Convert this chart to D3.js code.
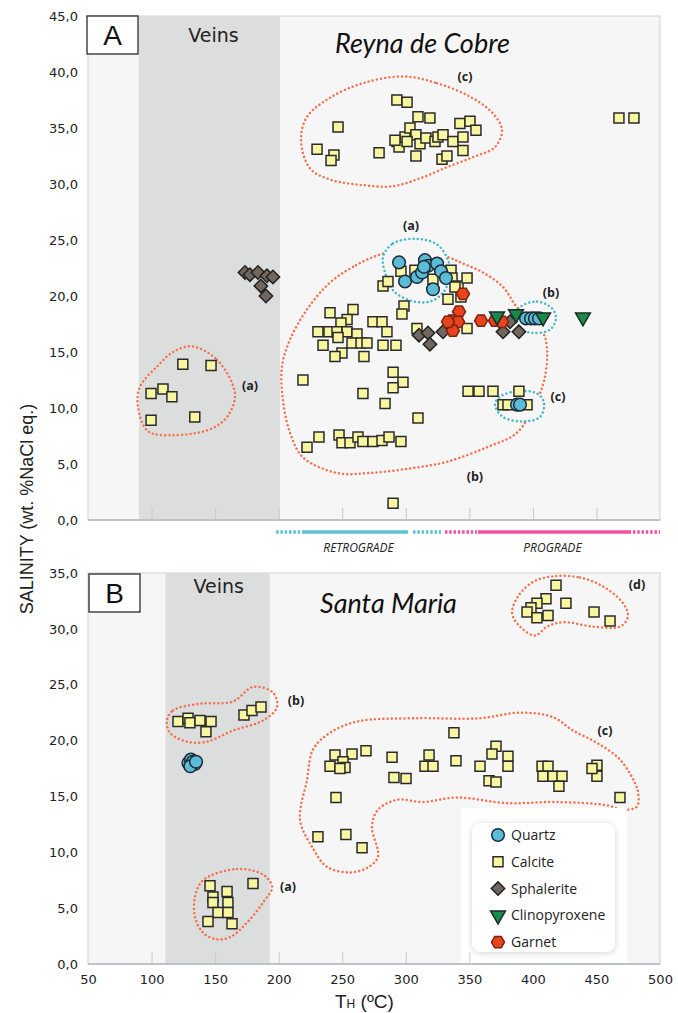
<!DOCTYPE html>
<html>
<meta charset="utf-8">
<title>Salinity vs TH</title>
<style>
  body { margin: 0; background: #fff; }
  .tick text { font-family: "DejaVu Sans", Verdana, sans-serif; font-size: 13px; fill: #222; }
  .lbl { font-family: "Open Sans", sans-serif; font-weight: 700; font-size: 12.5px; fill: #222; }
  .site { font-family: Lato, "Open Sans", sans-serif; font-style: italic; font-size: 27px; fill: #111; }
  .veins { font-family: "DejaVu Sans", sans-serif; font-size: 19px; fill: #222; }
  .stage { font-family: "Open Sans", sans-serif; font-style: italic; font-size: 12px; fill: #222; }
  .leg { font-family: "Open Sans", sans-serif; font-size: 14px; fill: #222; }
</style>
<body>
<script src="https://d3js.org/d3.v7.min.js"></script>
<script>
// ---- panel A : Reyna de Cobre ----
var aQuartz = [[294.7,23.0],[299.4,21.3],[308.8,21.7],[312.8,22.1],[315.1,23.2],[317.5,22.7],[324.6,22.9],[327.7,22.2],[331.6,21.6],[321.4,20.6],[314.3,22.6],
  [394.6,18.0],[398.5,18.0],[401.6,18.0],[404.8,18.0],[387.5,10.3],[389.9,10.3]];
var aCalcite = [[99.6,11.3],[109,11.7],[116,11.0],[124.6,13.9],[146.8,13.8],[99.6,8.9],[134,9.2],
  [293,37.5],[301,37.3],[309.6,36.0],[319,35.9],[246.7,35.1],[342.6,35.4],[350.5,35.6],[355.2,34.8],[230.2,33.1],[243.5,32.6],[241.2,32.1],[279,32.8],
  [293.1,33.8],[294.7,33.3],[299.4,34.2],[303.3,35.0],[308,34.4],[311.2,33.6],[315.9,34.1],[308,32.5],[323,33.8],[325.3,34.2],[329.3,34.4],[337.1,33.8],
  [345,34.2],[345,33.0],[328.5,32.2],[332.4,32.5],[301,33.8],[291.5,33.9],[467.7,35.9],[479.5,35.9],
  [282.1,20.9],[286,21.3],[296.2,22.2],[307.2,22.3],[321.4,21.5],[335.6,22.3],[336.4,21.6],[341.1,20.9],[348.2,21.6],[343.4,19.9],[333.2,19.7],[338.7,20.8],[298.6,19.1],[297,18.4],
  [240.4,18.5],[258.5,18.8],[253.8,17.9],[249,17.6],[230.9,16.8],[239.6,16.8],[245.9,16.8],[253.8,16.8],[261.6,16.6],[234.9,15.6],[246.7,16.3],[257.7,15.8],
  [264.8,15.8],[269.5,15.8],[249.8,14.9],[244.3,14.6],[267.1,14.6],[274.2,17.7],[281.3,17.7],[285.2,16.8],[282.1,15.6],[292.3,15.6],
  [219.1,12.5],[290,13.2],[297.8,12.3],[290,11.8],[266.3,11.3],[283.7,10.4],[309.6,9.1],[222.3,6.5],[231.7,7.4],[247.5,7.6],[249.8,6.9],[256.1,6.9],
  [262.4,7.4],[266.3,7.0],[274.2,7.0],[281.3,7.1],[286.8,7.4],[296.2,7.0],[290,1.5],
  [349,11.5],[357.6,11.5],[368.6,11.5],[389,11.5],[376.5,10.3],[380.4,10.3],[395.4,10.3],[348.2,17.1],[308.8,17.1]];
var aSphalerite = [[173.5,22.1],[177.4,21.9],[183.7,22.1],[190.8,21.8],[195.5,21.7],[186,20.9],[190,20.0],
  [310.4,16.5],[317.5,16.7],[319,15.7],[329.3,16.8],[376.5,16.8],[382,17.7],[389,16.8]];
var aCpx = [[371.8,18.2],[386.7,18.4],[408,18.1],[439.4,18.1]];
var aGarnet = [[345,20.2],[341.9,18.6],[336.4,17.8],[341.1,17.7],[337.1,16.9],[333.2,17.7],[359.2,17.8],[370.2,17.8],[375.7,17.7]];

var aRingsRed = [
  [[131.8,15.5],[151.5,14.3],[165.6,11.3],[159.4,9.2],[143.6,8.0],[106.6,7.6],[96.4,8.0],[89.3,10.1],[90.9,11.9],[104.3,13.7],[116.9,15.0]],
  [[297.8,39.6],[324.6,39.0],[350.5,37.8],[368.6,36.3],[375.7,34.8],[370.2,33.3],[352.9,32.4],[332.4,31.5],[311.2,30.5],[289.9,29.8],[266.3,29.9],
   [240.4,30.4],[224.6,31.4],[217.6,33.9],[222.3,36.0],[240.4,37.7],[266.3,39.0]],
  [[279.7,23.7],[258.5,22.6],[240.4,21.2],[222.3,18.8],[208.9,16.1],[202.6,13.7],[203.4,10.7],[208.9,7.8],[219.1,5.6],[245.9,4.2],[271.8,4.2],
   [303.3,4.6],[332.4,5.2],[363.9,6.5],[387.5,7.8],[403.2,10.7],[409.5,12.8],[411.1,15.2],[408,16.7],[387.5,19.0],[376.5,20.8],[360.7,22.1],[345,22.9],[334.8,23.4],[307,24.3]]
];
var aRingsBlue = [
  [[282.1,23.5],[290,24.7],[308.8,25.1],[324.6,24.6],[333.2,23.2],[334.8,21.7],[329.3,20.3],[319,19.5],[303.3,19.6],[290,20.5],[283.7,22.1]],
  [[389.9,19.0],[403.2,19.5],[415,18.9],[418.2,18.0],[413.5,17.0],[400.1,16.7],[389.9,17.1],[387.5,18.1]],
  [[374.1,11.0],[387.5,11.5],[403.2,11.3],[408.7,10.5],[405.6,9.2],[392.2,8.8],[376.5,9.2],[370.2,10.3]]
];
var aLabels = [["(c)",346.6,39.6],["(a)",304.1,26.3],["(b)",414.2,20.3],["(c)",419.7,11.0],["(b)",354.4,3.9],["(a)",177.4,12.0]];

// ---- panel B : Santa Maria ----
var bQuartz = [[129,18.0],[131,18.3],[134,17.9],[132.5,18.1],[130.5,17.7],[135,18.1]];
var bCalcite = [[120.8,21.7],[128.7,22.0],[130.2,21.6],[138.1,21.8],[146.8,21.7],[142.8,20.8],[172.7,22.3],[179,22.7],[186.1,23.0],
  [146,7.0],[148.3,6.0],[148.3,5.5],[159.4,6.5],[160.1,5.5],[152.3,4.6],[160.1,4.6],[144.4,3.8],[163.3,3.6],[179.8,7.2],
  [418.2,33.9],[410.3,32.7],[403.2,32.3],[398.5,31.9],[395.4,31.5],[403.2,31.0],[411.9,31.2],[426,32.3],[448.1,31.5],[460.7,30.7],
  [337.9,20.7],[244.3,18.7],[257.7,18.8],[268.7,19.1],[240.4,17.7],[250.6,18.1],[252.2,17.6],[248.2,17.5],[289.2,18.5],[290.7,16.7],[300.2,16.6],
  [318.3,18.7],[315.1,17.7],[321.4,17.7],[339.5,18.2],[358.4,17.7],[371,19.5],[367.8,18.8],[380.4,18.6],[380.4,17.7],[365.5,16.4],[371,16.3],
  [407.2,17.7],[411.9,17.7],[407.9,16.8],[415.8,16.8],[422.9,16.8],[420.5,15.9],[450.4,17.8],[450.4,16.8],[446.5,17.5],[245.1,14.9],[468.5,14.9],
  [230.9,11.4],[252.9,11.6],[265.6,10.4]];
var bRingsRed = [
  [[112.1,21.8],[116.9,22.7],[138.1,23.3],[164.1,23.5],[179.8,24.8],[195.5,24.3],[198.7,23.0],[187.7,21.8],[164.1,20.9],[143.6,19.9],[127.9,19.9],[114.5,20.7]],
  [[140.5,7.5],[167.2,8.5],[187.7,8.0],[194.8,6.9],[187.7,5.5],[175.1,3.7],[161.7,2.4],[151.5,2.2],[140.5,2.8],[134.2,4.2],[134.2,6.0]],
  [[415.8,34.7],[437,34.6],[455.1,33.8],[470.9,32.3],[474.8,31.1],[468.5,30.2],[447.3,30.2],[423.7,30.6],[411.1,30.2],[401.7,29.4],[389.9,30.2],[383.6,31.4],[388.3,32.9],[400.1,34.2]],
  [[261.6,21.7],[305.7,22.0],[358.4,22.0],[389.9,22.5],[415.8,22.1],[431.5,20.9],[450.4,19.8],[468.5,18.3],[480.3,16.2],[482.7,15.4],[481.9,14.1],
   [470.9,13.8],[458.3,14.2],[418.9,14.5],[379.6,14.4],[340.3,14.9],[313.5,14.5],[293.1,14.7],[278.1,13.8],[273.4,12.3],[278.1,9.6],[269.5,8.6],
   [256.1,8.2],[238,8.7],[226.2,10.5],[216.8,12.9],[222.3,16.5],[227,19.2],[240.4,20.7]]
];
var bLabels = [["(d)",481.9,34.0],["(b)",213.6,23.6],["(c)",456.7,20.9],["(a)",207.3,6.9]];

var xTicks = [50,100,150,200,250,300,350,400,450,500];
var retroSegs = [[198,218.4,"dot"],[218.4,301.7,"solid"],[305.7,327.7,"dot"]];
var proSegs = [[330.8,356,"dot"],[356.8,477.2,"solid"],[478.7,500,"dot"]];
var legendNames = ["Quartz","Calcite","Sphalerite","Clinopyroxene","Garnet"];

var bg = "#f6f6f6", veinBg = "#dcdddd", red = "#f4704f", blue = "#45b6c8";

var hexagon = { draw: function(ctx, size) {
  var r = Math.sqrt(size * 2 / (3 * Math.sqrt(3)));
  for (var i = 0; i < 6; i++) {
    var a = i * Math.PI / 3;
    if (i === 0) ctx.moveTo(r * Math.cos(a), r * Math.sin(a)); else ctx.lineTo(r * Math.cos(a), r * Math.sin(a));
  }
  ctx.closePath();
}};

var styles = {
  Quartz: {type: d3.symbolCircle, size: 125, fill: "#5bbcd8", stroke: "#1d2a36", rot: 0},
  Calcite: {type: d3.symbolSquare, size: 100, fill: "#f8f6a0", stroke: "#2a2a2a", rot: 0},
  Sphalerite: {type: d3.symbolSquare, size: 90, fill: "#72675f", stroke: "#222", rot: 45},
  Clinopyroxene: {type: d3.symbolTriangle, size: 95, fill: "#188a4c", stroke: "#1c2a22", rot: 180},
  Garnet: {type: hexagon, size: 110, fill: "#e8431a", stroke: "#7a2410", rot: 0}
};

var x = d3.scaleLinear().domain([50, 500]).range([88, 660]);
var yA = d3.scaleLinear().domain([0, 45]).range([520, 16]);
var yB = d3.scaleLinear().domain([0, 35]).range([964, 573]);

var svg = d3.select("body").append("svg").attr("width", 678).attr("height", 1013);

var defs = svg.append("defs");
defs.append("filter").attr("id", "shadow").attr("x", "-20%").attr("y", "-20%").attr("width", "140%").attr("height", "140%")
  .append("feDropShadow").attr("dx", 0).attr("dy", 1).attr("stdDeviation", 3).attr("flood-color", "#000").attr("flood-opacity", 0.18);

function fmt(d) { return d.toFixed(1).replace(".", ","); }

function drawPanel(y, ymax, veins, letter, site, sitePos, rings, blueRings, series, labels, showX) {
  var g = svg.append("g");
  g.append("rect").attr("x", x(50)).attr("y", y(ymax)).attr("width", x(500) - x(50)).attr("height", y(0) - y(ymax))
    .attr("fill", bg).attr("stroke", "#d8d8d8").attr("stroke-width", 1.2);
  g.append("rect").attr("x", x(veins[0])).attr("y", y(ymax)).attr("width", x(veins[1]) - x(veins[0])).attr("height", y(0) - y(ymax))
    .attr("fill", veinBg);

  g.append("g").attr("transform", "translate(0," + y(0) + ")")
    .call(d3.axisTop(x).tickValues(xTicks.slice(1, -1)).tickSize(12).tickFormat(""))
    .call(function(a) { a.select(".domain").remove(); a.selectAll("line").attr("stroke", "#c9c9c9"); });
  g.append("line").attr("x1", x(50)).attr("x2", x(500)).attr("y1", y(0)).attr("y2", y(0))
    .attr("stroke", "#bcc1cc").attr("stroke-width", 2);

  g.append("g").attr("transform", "translate(" + x(50) + ",0)")
    .call(d3.axisLeft(y).tickValues(d3.range(0, ymax + 1, 5)).tickSize(0).tickPadding(10).tickFormat(fmt))
    .call(function(a) { a.select(".domain").remove(); });

  if (showX) {
    g.append("g").attr("transform", "translate(0," + y(0) + ")")
      .call(d3.axisBottom(x).tickValues(xTicks).tickSize(0).tickPadding(11))
      .call(function(a) { a.select(".domain").remove(); });
  }

  var line = d3.line().x(function(d) { return x(d[0]); }).y(function(d) { return y(d[1]); }).curve(d3.curveCatmullRomClosed.alpha(0.5));
  rings.forEach(function(r) {
    g.append("path").attr("d", line(r)).attr("fill", "none").attr("stroke", red)
      .attr("stroke-width", 2.5).attr("stroke-dasharray", "0.01 4.2").attr("stroke-linecap", "round");
  });
  blueRings.forEach(function(r) {
    g.append("path").attr("d", line(r)).attr("fill", bg).attr("stroke", blue)
      .attr("stroke-width", 2.5).attr("stroke-dasharray", "0.01 4.2").attr("stroke-linecap", "round");
  });

  series.forEach(function(s) {
    var st = styles[s.name];
    g.append("g").selectAll("path").data(s.data).enter().append("path")
      .attr("d", d3.symbol().type(st.type).size(st.size))
      .attr("transform", function(d) { return "translate(" + x(d[0]) + "," + y(d[1]) + ") rotate(" + st.rot + ")"; })
      .attr("fill", st.fill).attr("stroke", st.stroke).attr("stroke-width", 1.5);
  });

  g.selectAll("text.lbl").data(labels).enter().append("text").attr("class", "lbl")
    .attr("x", function(d) { return x(d[1]); }).attr("y", function(d) { return y(d[2]); })
    .attr("dy", "0.35em").attr("text-anchor", "middle").text(function(d) { return d[0]; });

  g.append("text").attr("class", "veins").attr("x", (x(veins[0]) + x(veins[1])) / 2 + (letter === "B" ? 1 : 4))
    .attr("y", y(ymax) + (letter === "A" ? 26 : 20)).attr("text-anchor", "middle").text("Veins");

  g.append("text").attr("class", "site").attr("x", sitePos[0]).attr("y", sitePos[1]).text(site);

  var bx = letter === "A" ? 87 : 89, by = y(ymax) + (letter === "A" ? 0 : 1);
  g.append("rect").attr("x", bx).attr("y", by).attr("width", 51).attr("height", 38)
    .attr("fill", "#fff").attr("stroke", "#2a2a2a").attr("stroke-width", 1.3);
  g.append("text").attr("x", bx + 25.5).attr("y", by + 29).attr("text-anchor", "middle")
    .style("font-family", "Liberation Sans, Arial, sans-serif").style("font-size", "28px").style("fill", "#111").text(letter);
  return g;
}

drawPanel(yA, 45, [90, 201], "A", "Reyna de Cobre", [335, 53], aRingsRed, aRingsBlue,
  [{name: "Calcite", data: aCalcite}, {name: "Sphalerite", data: aSphalerite}, {name: "Garnet", data: aGarnet},
   {name: "Quartz", data: aQuartz}, {name: "Clinopyroxene", data: aCpx}], aLabels, false);

drawPanel(yB, 35, [111, 193], "B", "Santa Maria", [320, 613], bRingsRed, [],
  [{name: "Calcite", data: bCalcite}, {name: "Quartz", data: bQuartz}], bLabels, true);

// legend
var leg = svg.append("g");
leg.append("rect").attr("x", 461).attr("y", 808).attr("width", 166).attr("height", 155).attr("fill", "#fff");
leg.append("g").attr("transform", "translate(0,964)")
  .call(d3.axisTop(x).tickValues([350]).tickSize(12).tickFormat(""))
  .call(function(a) { a.select(".domain").remove(); a.selectAll("line").attr("stroke", "#c9c9c9"); });
leg.append("rect").attr("x", 472).attr("y", 823).attr("width", 143).attr("height", 129).attr("rx", 9)
  .attr("fill", "#fff").attr("filter", "url(#shadow)");
var rows = leg.selectAll("g.row").data(legendNames).enter().append("g")
  .attr("transform", function(d, i) { return "translate(498," + (835 + i * 26.8) + ")"; });
rows.append("path").attr("d", function(d) { return d3.symbol().type(styles[d].type).size(styles[d].size)(); })
  .attr("transform", function(d) { return "rotate(" + styles[d].rot + ")"; })
  .attr("fill", function(d) { return styles[d].fill; }).attr("stroke", function(d) { return styles[d].stroke; }).attr("stroke-width", 1.5);
rows.append("text").attr("class", "leg").attr("x", 13).attr("dy", "0.35em").text(function(d) { return d; });

// retrograde / prograde bar
var barY = 532;
function drawSegs(segs, color) {
  svg.append("g").selectAll("line").data(segs).enter().append("line")
    .attr("x1", function(d) { return x(d[0]); }).attr("x2", function(d) { return x(d[1]); })
    .attr("y1", barY).attr("y2", barY).attr("stroke", color).attr("stroke-width", 3.5)
    .attr("stroke-dasharray", function(d) { return d[2] === "dot" ? "2.5 1.8" : null; });
}
drawSegs(retroSegs, "#5cc1d4");
drawSegs(proSegs, "#f0509f");
svg.append("text").attr("class", "stage").attr("x", x(d3.mean([retroSegs[0][0], retroSegs[2][1]]))).attr("y", 552).attr("text-anchor", "middle").text("RETROGRADE");
svg.append("text").attr("class", "stage").attr("x", x(d3.mean([proSegs[0][0], proSegs[2][1]]))).attr("y", 552).attr("text-anchor", "middle").text("PROGRADE");

// axis titles
svg.append("text").attr("transform", "translate(33,509) rotate(-90)").attr("text-anchor", "middle")
  .style("font-family", "Liberation Sans, Arial, sans-serif").style("font-size", "18px").style("fill", "#222")
  .text("SALINITY (wt. %NaCl eq.)");
var xt = svg.append("text").attr("x", 335).attr("y", 1008)
  .style("font-family", "Liberation Sans, Arial, sans-serif").style("font-size", "19px").style("fill", "#222");
xt.append("tspan").text("T");
xt.append("tspan").style("font-size", "12px").text("H");
xt.append("tspan").text(" (ºC)");
</script>
</body>
</html>
